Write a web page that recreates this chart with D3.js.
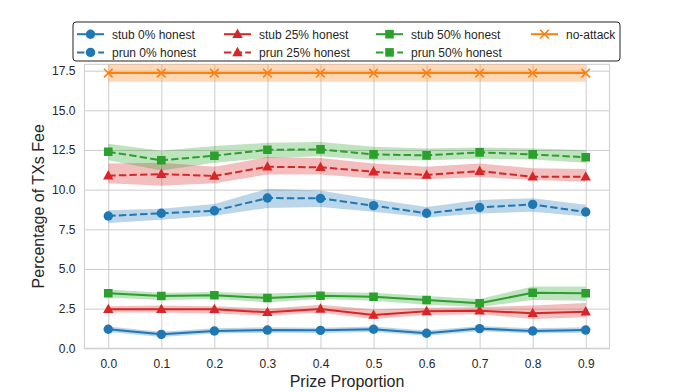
<!DOCTYPE html>
<html><head><meta charset="utf-8">
<script src="https://cdn.jsdelivr.net/npm/d3@7"></script>
<style>body{margin:0;background:#fff}svg{display:block}text{font-family:"Liberation Sans",Arial,sans-serif}</style>
</head><body>
<svg id="c" width="677" height="392"></svg>
<script>
const prizes = [0.0,0.1,0.2,0.3,0.4,0.5,0.6,0.7,0.8,0.9];
const yTicks = [0,2.5,5,7.5,10,12.5,15,17.5];

const stub0   = [1.20,0.88,1.09,1.15,1.13,1.20,0.95,1.24,1.09,1.15];
const stub0Lo = [1.02,0.72,0.93,0.98,0.97,1.03,0.79,1.07,0.93,0.98];
const stub0Hi = [1.38,1.05,1.26,1.32,1.30,1.38,1.12,1.41,1.26,1.33];
const prun0   = [8.34,8.51,8.67,9.47,9.45,8.99,8.51,8.88,9.07,8.59];
const prun0Lo = [7.90,8.10,8.35,8.85,8.90,8.60,8.25,8.50,8.60,8.30];
const prun0Hi = [8.70,8.80,9.10,10.05,9.95,9.40,8.90,9.35,9.45,9.05];
const stub25   = [2.46,2.46,2.46,2.27,2.48,2.10,2.33,2.37,2.21,2.31];
const stub25Lo = [2.25,2.25,2.20,2.05,2.25,1.85,2.10,2.15,1.85,1.95];
const stub25Hi = [2.65,2.70,2.65,2.50,2.75,2.45,2.55,2.60,2.70,2.85];
const prun25   = [10.88,10.98,10.86,11.44,11.41,11.13,10.92,11.17,10.81,10.81];
const prun25Lo = [10.40,10.25,10.40,10.95,10.95,10.70,10.65,10.80,10.60,10.50];
const prun25Hi = [11.65,11.70,11.45,12.05,12.00,11.65,11.45,11.65,11.35,11.30];
const stub50   = [3.47,3.30,3.34,3.17,3.31,3.25,3.04,2.84,3.50,3.47];
const stub50Lo = [3.20,3.05,3.10,2.90,3.10,3.00,2.75,2.60,3.05,3.00];
const stub50Hi = [3.70,3.50,3.55,3.45,3.55,3.50,3.30,3.10,3.90,3.90];
const prun50   = [12.39,11.85,12.14,12.51,12.54,12.22,12.16,12.35,12.22,12.04];
const prun50Lo = [11.85,11.20,11.70,12.00,12.10,11.85,11.85,11.95,11.90,11.70];
const prun50Hi = [12.90,12.45,12.75,12.95,13.00,12.70,12.60,12.65,12.60,12.50];
const noAttack   = [17.35,17.35,17.35,17.35,17.35,17.35,17.35,17.35,17.35,17.35];
const noAttackLo = [16.80,16.80,16.80,16.80,16.80,16.80,16.80,16.80,16.80,16.80];
const noAttackHi = [17.95,17.95,17.95,17.95,17.95,17.95,17.95,17.95,17.95,17.95];

const series = [
  {name:"stub 0% honest", v:stub0, lo:stub0Lo, hi:stub0Hi, color:"#1f77b4", marker:"o", dash:false},
  {name:"prun 0% honest", v:prun0, lo:prun0Lo, hi:prun0Hi, color:"#1f77b4", marker:"o", dash:true},
  {name:"stub 25% honest", v:stub25, lo:stub25Lo, hi:stub25Hi, color:"#d62728", marker:"^", dash:false},
  {name:"prun 25% honest", v:prun25, lo:prun25Lo, hi:prun25Hi, color:"#d62728", marker:"^", dash:true},
  {name:"stub 50% honest", v:stub50, lo:stub50Lo, hi:stub50Hi, color:"#2ca02c", marker:"s", dash:false},
  {name:"prun 50% honest", v:prun50, lo:prun50Lo, hi:prun50Hi, color:"#2ca02c", marker:"s", dash:true},
  {name:"no-attack", v:noAttack, lo:noAttackLo, hi:noAttackHi, color:"#ff7f0e", marker:"x", dash:false}
];

const L=84.4, R=609.6, T=64.3, B=348.3;
const x = d3.scaleLinear().domain([-0.045,0.945]).range([L,R]);
const y = d3.scaleLinear().domain([0,17.9]).range([B,T]);
const svg = d3.select("#c");

svg.append("defs").append("clipPath").attr("id","clip")
  .append("rect").attr("x",L).attr("y",T).attr("width",R-L).attr("height",B-T);

// grid
const gx = svg.append("g").attr("transform",`translate(0,${B})`)
  .call(d3.axisBottom(x).tickValues(prizes).tickSize(-(B-T)).tickFormat(d3.format(".1f")).tickPadding(10.9));
const gy = svg.append("g").attr("transform",`translate(${L},0)`)
  .call(d3.axisLeft(y).tickValues(yTicks).tickSize(-(R-L)).tickFormat(d3.format(".1f")).tickPadding(9));
[gx,gy].forEach(g=>{
  g.select(".domain").remove();
  g.selectAll(".tick line").attr("stroke","#cccccc").attr("stroke-width",1);
  g.selectAll(".tick text").attr("fill","#262626").style("font-size","12px").style("font-family",'"Liberation Sans",Arial,sans-serif');
});
svg.append("rect").attr("x",L).attr("y",T).attr("width",R-L).attr("height",B-T)
  .attr("fill","none").attr("stroke","#cccccc").attr("stroke-width",1);

function markerPath(m){
  if(m==="o") return d3.symbol().type(d3.symbolCircle).size(Math.PI*4.7*4.7)();
  if(m==="s") return "M-4.3,-4.3H4.3V4.3H-4.3Z";
  if(m==="^") return "M0,-5.6L5.2,3.8L-5.2,3.8Z";
  if(m==="x") return "M-4.3,-4.3L4.3,4.3M-4.3,4.3L4.3,-4.3";
}
function drawMarker(g,m,color,cx,cy){
  const p = g.append("path").attr("d",markerPath(m)).attr("transform",`translate(${cx},${cy})`);
  if(m==="x") p.attr("fill","none").attr("stroke",color).attr("stroke-width",1.6);
  else p.attr("fill",color).attr("stroke","none");
}

const plot = svg.append("g").attr("clip-path","url(#clip)");
series.forEach(s=>{
  const idx = d3.range(prizes.length);
  plot.append("path").datum(idx)
    .attr("d", d3.area().x(i=>x(prizes[i])).y0(i=>y(s.lo[i])).y1(i=>y(s.hi[i])))
    .attr("fill", s.color).attr("fill-opacity",0.3).attr("stroke","none");
});
series.forEach(s=>{
  const idx = d3.range(prizes.length);
  plot.append("path").datum(idx)
    .attr("d", d3.line().x(i=>x(prizes[i])).y(i=>y(s.v[i])))
    .attr("fill","none").attr("stroke",s.color).attr("stroke-width",2)
    .attr("stroke-dasharray", s.dash ? "7.4,3.2" : null);
  idx.forEach(i=>drawMarker(plot,s.marker,s.color,x(prizes[i]),y(s.v[i])));
});

// axis labels
svg.append("text").attr("x",(L+R)/2).attr("y",387).attr("text-anchor","middle")
  .attr("fill","#262626").style("font-size","16px").text("Prize Proportion");
svg.append("text").attr("transform",`translate(44,${(T+B)/2}) rotate(-90)`).attr("text-anchor","middle")
  .attr("fill","#262626").style("font-size","16px").text("Percentage of TXs Fee");

// legend
const leg = svg.append("g");
leg.append("rect").attr("x",73).attr("y",22).attr("width",547).attr("height",39).attr("rx",3)
  .attr("fill","#fff").attr("stroke","#222").attr("stroke-width",1);
const colX = [77,224,376,531];
const rowY = [34.2,52.4];
series.forEach((s,k)=>{
  const c = Math.floor(k/2), r = k%2;
  const x0 = colX[c], yy = rowY[r];
  leg.append("line").attr("x1",x0).attr("x2",x0+27).attr("y1",yy).attr("y2",yy)
    .attr("stroke",s.color).attr("stroke-width",2).attr("stroke-dasharray", s.dash ? "7.4,3.2" : null);
  drawMarker(leg,s.marker,s.color,x0+13.5,yy);
  leg.append("text").attr("x",x0+35).attr("y",yy+4.3).attr("fill","#262626")
    .style("font-size","12px").text(s.name);
});
</script>
</body></html>
